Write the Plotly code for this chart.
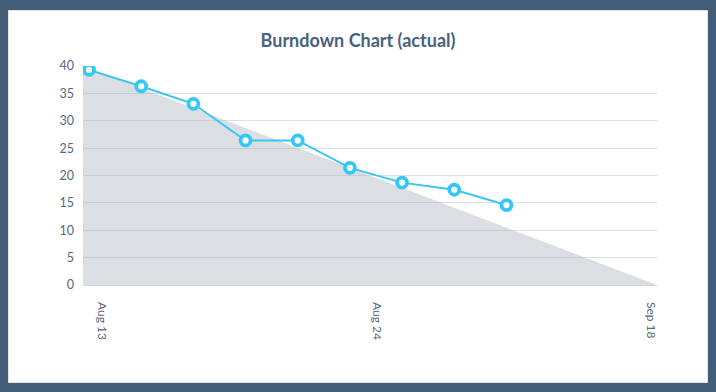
import plotly.graph_objects as go

# ---- data ----
ideal_day = [0, 22]
ideal_remaining = [40, 0]
actual_day = [0.23, 2.23, 4.23, 6.23, 8.23, 10.23, 12.23, 14.23, 16.23]
actual_remaining = [39.3, 36.3, 33.1, 26.4, 26.4, 21.4, 18.7, 17.4, 14.6]
tick_day = [0.73, 11.25, 21.75]
tick_labels = ["Aug 13", "Aug 24", "Sep 18"]
y_ticks = [0, 5, 10, 15, 20, 25, 30, 35, 40]

W, H = 716, 392
L, R, T, B = 83, 59, 66, 107
pw, ph = W - L - R, H - T - B

def px_x(p):
    return (p - L) / pw

def px_y(p):
    return (H - B - p) / ph

fig = go.Figure()
fig.add_trace(go.Scatter(
    x=ideal_day, y=ideal_remaining, mode="lines", fill="tozeroy",
    line=dict(width=0, color="rgba(0,0,0,0)"),
    fillcolor="rgba(160,170,182,0.38)", hoverinfo="skip", showlegend=False,
))
fig.add_trace(go.Scatter(
    x=actual_day, y=actual_remaining, mode="lines+markers",
    line=dict(color="#36c8f4", width=2),
    marker=dict(size=10, color="white", line=dict(color="#36c8f4", width=3.8)),
    showlegend=False,
))

fig.add_shape(type="rect", xref="paper", yref="paper",
              x0=px_x(8.5), x1=px_x(707.5), y0=px_y(382.5), y1=px_y(10.5),
              fillcolor="white", line=dict(color="#e4e4e4", width=1), layer="below")

fig.update_layout(
    width=W, height=H,
    margin=dict(l=L, r=R, t=T, b=B),
    paper_bgcolor="#425d77",
    plot_bgcolor="rgba(0,0,0,0)",
    font=dict(family="Lato, sans-serif", color="#56687c", size=12.5),
    title=dict(text="<b>Burndown Chart (actual)</b>", x=0.5, xref="container",
               y=1 - 41 / H, yanchor="middle",
               font=dict(family="Lato", size=18, color="#48627d")),
    xaxis=dict(range=[0, 22], tickvals=tick_day, ticktext=tick_labels,
               tickangle=90, showgrid=False, zeroline=False, showline=False,
               ticks="", fixedrange=True, ticklabelstandoff=16,
               tickfont=dict(size=12)),
    yaxis=dict(range=[0, 40], tickvals=y_ticks, showgrid=True,
               gridcolor="#dde1e6", gridwidth=1, zeroline=True,
               zerolinecolor="#d2d7dd", zerolinewidth=1,
               showline=False, ticks="", ticklabelstandoff=8, fixedrange=True),
)

fig.write_html("out.html", config={"displayModeBar": False},
               post_script="document.body.style.margin='0';document.body.style.background='#425d77';")
